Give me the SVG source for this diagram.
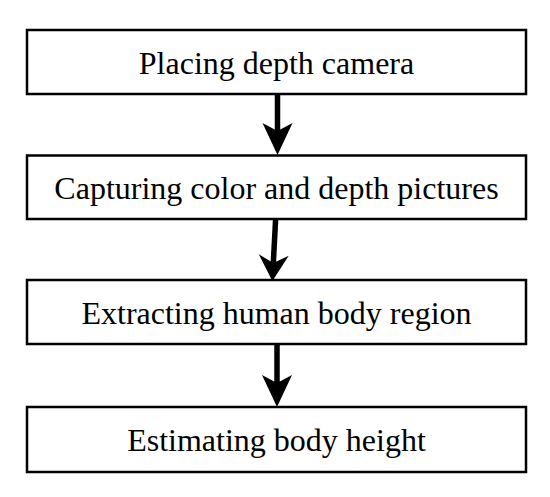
<svg xmlns="http://www.w3.org/2000/svg" width="550" height="497" viewBox="0 0 550 497">
<style>
.box{fill:#fff;stroke:#000;stroke-width:2.5}
.lbl{font-family:"Liberation Serif","Times New Roman",serif;font-size:32px;fill:#000;text-anchor:middle}
.shaft{stroke:#000;stroke-width:5.5;fill:none}
.head{fill:#000;stroke:none}
</style>
<rect width="550" height="497" fill="#fff"/>
<g id="connectors">
<g id="arrow1">
<line class="shaft" x1="277.5" y1="94" x2="277.5" y2="140"/>
<path class="head" d="M277.5,155 L262.5,123 L277.5,131 L292.5,123 Z"/>
</g>
<g id="arrow2" transform="rotate(3 274 250)">
<line class="shaft" x1="274" y1="219" x2="274" y2="265"/>
<path class="head" d="M274,281 L259,255 L274,263 L289,255 Z"/>
</g>
<g id="arrow3">
<line class="shaft" x1="277" y1="344" x2="277" y2="392"/>
<path class="head" d="M277,407 L262,375 L277,383 L292,375 Z"/>
</g>
</g>
<g id="node1">
<rect class="box" x="27" y="30" width="499" height="64"/>
<text class="lbl" x="276.5" y="74">Placing depth camera</text>
</g>
<g id="node2">
<rect class="box" x="27" y="155.5" width="499" height="63.5"/>
<text class="lbl" x="276.5" y="199">Capturing color and depth pictures</text>
</g>
<g id="node3">
<rect class="box" x="27" y="280" width="499" height="64"/>
<text class="lbl" x="276.5" y="324">Extracting human body region</text>
</g>
<g id="node4">
<rect class="box" x="27" y="407" width="499" height="65"/>
<text class="lbl" x="276.5" y="451">Estimating body height</text>
</g>
</svg>
